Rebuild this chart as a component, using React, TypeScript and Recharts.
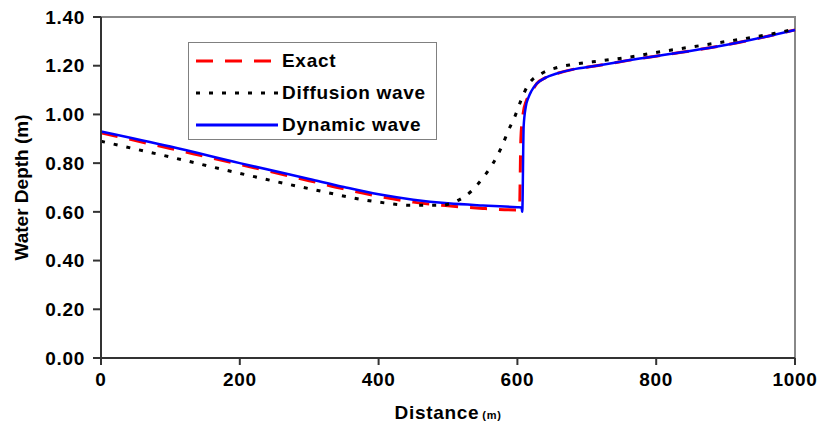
import { LineChart, Line, XAxis, YAxis, ReferenceArea } from 'recharts'

// values
const exactDist = [0, 100, 200, 300, 350, 400, 450, 500, 550, 600, 603, 605, 608, 613, 620, 628, 640, 657, 680, 714, 760, 834, 900, 1000]
const exactDepth = [0.925, 0.86, 0.795, 0.728, 0.694, 0.664, 0.64, 0.625, 0.614, 0.608, 0.608, 0.9, 1.0, 1.057, 1.09, 1.127, 1.15, 1.168, 1.185, 1.2, 1.222, 1.254, 1.285, 1.347]

const diffDist = [0, 100, 200, 300, 400, 445, 490, 513, 534, 552, 565, 577, 587, 597, 605, 615, 635, 658, 680, 723, 767, 791, 880, 971, 1000]
const diffDepth = [0.89, 0.825, 0.758, 0.695, 0.64, 0.627, 0.627, 0.645, 0.686, 0.746, 0.8, 0.865, 0.934, 0.996, 1.057, 1.119, 1.168, 1.193, 1.205, 1.221, 1.238, 1.25, 1.29, 1.333, 1.35]

const dynDist = [0, 100, 200, 300, 350, 400, 450, 500, 550, 600, 606, 607, 609, 612, 616, 620, 628, 640, 657, 680, 714, 760, 834, 900, 1000]
const dynDepth = [0.93, 0.868, 0.8, 0.735, 0.702, 0.672, 0.65, 0.635, 0.626, 0.619, 0.618, 0.6, 0.95, 1.03, 1.07, 1.095, 1.127, 1.15, 1.168, 1.185, 1.2, 1.222, 1.254, 1.285, 1.347]

const xTicks = [0, 200, 400, 600, 800, 1000]
const yTicks = [0, 0.2, 0.4, 0.6, 0.8, 1.0, 1.2, 1.4]

const toRows = (xs: number[], ys: number[]) => xs.map((x, i) => ({ x, y: ys[i] }))

const exactData = toRows(exactDist, exactDepth)
const diffData = toRows(diffDist, diffDepth)
const dynData = toRows(dynDist, dynDepth)

const FONT = '"Liberation Sans", Arial, sans-serif'
const FS = 19
const LS = 0.7

const legendItems = [
  { label: 'Exact', color: '#ff0000', dash: '17 12' },
  { label: 'Diffusion wave', color: '#000000', dash: '4 9' },
  { label: 'Dynamic wave', color: '#0000ff', dash: undefined },
]

function ChartLegend() {
  return (
    <div
      style={{
        position: 'absolute',
        left: 188,
        top: 42,
        border: '1px solid #808080',
        background: '#fff',
        width: 249,
        height: 98,
        boxSizing: 'border-box',
        padding: '2px 0 0 7px',
        fontFamily: FONT,
        fontWeight: 700,
        fontSize: FS,
        letterSpacing: LS,
        color: '#000',
      }}
    >
      {legendItems.map((it) => (
        <div key={it.label} style={{ display: 'flex', alignItems: 'center', height: 32 }}>
          <svg width={86} height={10} style={{ flex: 'none' }}>
            <line x1={0} x2={82} y1={5} y2={5} stroke={it.color} strokeWidth={3} strokeDasharray={it.dash} />
          </svg>
          <span style={{ whiteSpace: 'nowrap' }}>{it.label}</span>
        </div>
      ))}
    </div>
  )
}

function DistanceLabel({ viewBox }: any) {
  const cx = viewBox.x + viewBox.width / 2
  return (
    <text x={cx} y={419} textAnchor="middle" fontFamily={FONT} fontWeight={700} fill="#000" letterSpacing={LS}>
      <tspan fontSize={FS}>Distance</tspan>
      <tspan fontSize={11} dx={3}>(m)</tspan>
    </text>
  )
}

const tickStyle = { fontFamily: FONT, fontWeight: 700, fontSize: FS, fill: '#000', letterSpacing: LS }

export default function App() {
  return (
    <div style={{ position: 'absolute', left: 0, top: 0, width: 821, height: 439, background: '#fff' }}>
      <LineChart width={821} height={439} margin={{ top: 17, right: 26, bottom: 0, left: 0 }}>
        <ReferenceArea x1={0} x2={1000} y1={0} y2={1.4} fill="none" stroke="#888" strokeWidth={2} ifOverflow="visible" />
        <XAxis
          type="number"
          dataKey="x"
          domain={[0, 1000]}
          ticks={xTicks}
          allowDuplicatedCategory={false}
          height={81}
          stroke="#333"
          strokeWidth={2}
          tickSize={7}
          tickMargin={8}
          tick={tickStyle}
          label={<DistanceLabel />}
        />
        <YAxis
          type="number"
          domain={[0, 1.4]}
          ticks={yTicks}
          width={101}
          stroke="#333"
          strokeWidth={2}
          tickSize={8}
          tickMargin={8}
          tickFormatter={(v: number) => v.toFixed(2)}
          tick={tickStyle}
          label={{
            value: 'Water Depth (m)',
            angle: -90,
            position: 'insideLeft',
            offset: 21,
            style: { fontFamily: FONT, fontWeight: 700, fontSize: FS, fill: '#000', textAnchor: 'middle' },
          }}
        />
        <Line
          data={exactData}
          dataKey="y"
          type="monotone"
          stroke="#ff0000"
          strokeWidth={3}
          strokeDasharray="17 12"
          dot={false}
          isAnimationActive={false}
        />
        <Line
          data={dynData}
          dataKey="y"
          type="monotone"
          stroke="#0000ff"
          strokeWidth={2.5}
          dot={false}
          isAnimationActive={false}
        />
        <Line
          data={diffData}
          dataKey="y"
          type="monotone"
          stroke="#000"
          strokeWidth={3}
          strokeDasharray="4 9"
          dot={false}
          isAnimationActive={false}
        />
      </LineChart>
      <ChartLegend />
    </div>
  )
}
